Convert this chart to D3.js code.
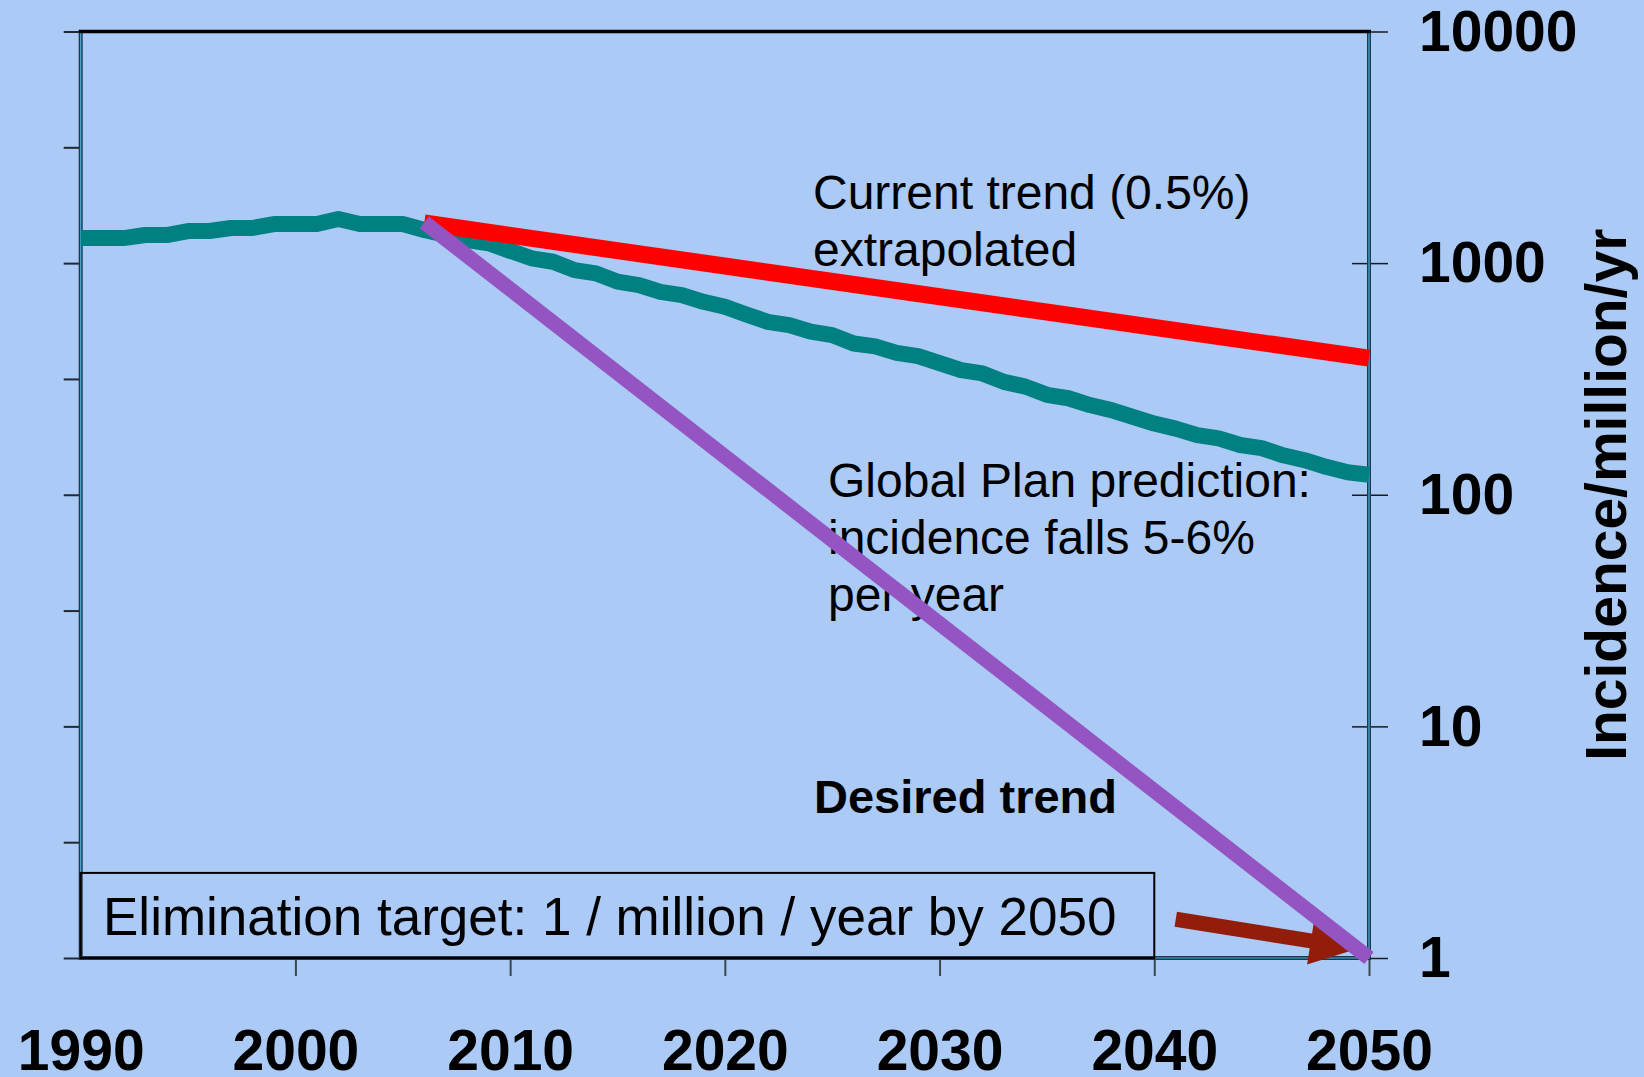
<!DOCTYPE html>
<html>
<head>
<meta charset="utf-8">
<script src="https://d3js.org/d3.v7.min.js"></script>
<style>
  body { margin: 0; background: #abcaf6; }
  svg { display: block; font-family: "Liberation Sans", Arial, sans-serif; }
</style>
</head>
<body>
<div id="chart"></div>
<script>

// ---- data (incidence / million / yr) ----
var years = d3.range(1990, 2051);
var globalPlan = [
  1283, 1283, 1283, 1322, 1322, 1376, 1376, 1418, 1418, 1475,   // 1990-1999
  1475, 1475, 1550, 1475, 1475, 1475, 1390, 1322, 1258, 1218,   // 2000-2009
  1130, 1049, 1014,  933,  903,  832,  804,  752,  728,  681,   // 2010-2019
   648,  600,  558,  540,  506,  489,  450,  437,  410,  397,   // 2020-2029
   370,  345,  334,  307,  293,  270,  261,  244,  232,  217,   // 2030-2039
   203,  193,  181,  175,  164,  159,  148,  141,  132,  125,   // 2040-2049
   122                                                          // 2050
];
var currentTrendYears = [2006, 2050];
var currentTrend = [1490, 389];
var desiredYears = [2006, 2050];
var desiredTrend = [1500, 1];

// elimination target annotation
var targetYears = [1990, 2040];
var targetBoxTop = 2.33;
var arrowYears = [2041, 2049.5];
var arrowValues = [1.47, 1.1];

var xTicks = [1990, 2000, 2010, 2020, 2030, 2040, 2050];
var yTicks = [1, 10, 100, 1000, 10000];
var yHalfTicks = d3.range(0, 4.01, 0.5).map(function(e) { return Math.pow(10, e); });

// ---- layout ----
var width = 1644,
    height = 1077;
var plotLeft = 80.7, plotRight = 1369, plotTop = 31.5, plotBottom = 958;

var svg = d3.select("#chart")
    .append("svg")
    .attr("width", width)
    .attr("height", height);

svg.append("rect")
    .attr("width", width)
    .attr("height", height)
    .attr("fill", "#abcaf6");

var x = d3.scaleLinear().domain([1990, 2050]).range([plotLeft, plotRight]);
var y = d3.scaleLog().domain([1, 10000]).range([plotBottom, plotTop]);

// left axis: half-decade ticks, no labels
var leftAxis = svg.append("g")
    .attr("transform", "translate(" + plotLeft + ",0)")
    .call(d3.axisLeft(y).tickValues(yHalfTicks).tickSize(17).tickFormat(""));
leftAxis.select(".domain").remove();
leftAxis.selectAll("line").attr("stroke", "#1f2833").attr("stroke-width", 2);

// bottom axis
var bottomAxis = svg.append("g")
    .attr("transform", "translate(0," + (plotBottom + 1) + ")")
    .call(d3.axisBottom(x).tickValues(xTicks).tickSize(17).tickPadding(54)
        .tickFormat(d3.format("d")));
bottomAxis.select(".domain").remove();
bottomAxis.selectAll("line")
    .attr("stroke", "#3b4652")
    .attr("stroke-width", 2)
    .attr("display", function(d) { return d === 1990 ? "none" : null; });
bottomAxis.selectAll("text")
    .attr("fill", "#000")
    .style("font-size", "57px")
    .style("font-weight", "bold");

// right axis with labels, ticks crossing the frame
var rightAxis = svg.append("g")
    .attr("transform", "translate(" + plotRight + ",0)")
    .call(d3.axisRight(y).tickValues(yTicks).tickSize(19).tickPadding(31)
        .tickFormat(d3.format("d")));
rightAxis.select(".domain").remove();
rightAxis.selectAll("line").attr("stroke", "#1a1a1a").attr("stroke-width", 1.5);
rightAxis.selectAll(".tick").append("line")
    .attr("x1", -17).attr("x2", 0)
    .attr("stroke", "#1a1a1a").attr("stroke-width", 1.5);
rightAxis.selectAll("text")
    .attr("fill", "#000")
    .attr("dy", "0.33em")
    .style("font-size", "57px")
    .style("font-weight", "bold");

// y axis title
svg.append("text")
    .attr("transform", "translate(1626," + (plotTop + plotBottom) / 2 + ") rotate(-90)")
    .attr("text-anchor", "middle")
    .style("font-size", "57px")
    .style("font-weight", "bold")
    .text("Incidence/million/yr");

// plot frame
var framePath = "M" + plotLeft + "," + plotTop + "V" + plotBottom + "H" + plotRight + "V" + plotTop;
svg.append("path")
    .attr("d", framePath)
    .attr("fill", "none")
    .attr("stroke", "#22384a")
    .attr("stroke-width", 4);
svg.append("path")
    .attr("d", framePath)
    .attr("fill", "none")
    .attr("stroke", "#45b0e0")
    .attr("stroke-width", 1.2);
svg.append("line")
    .attr("x1", plotLeft - 2).attr("x2", plotRight + 2)
    .attr("y1", plotTop).attr("y2", plotTop)
    .attr("stroke", "#000")
    .attr("stroke-width", 3.5);

// elimination target box
svg.append("rect")
    .attr("x", x(targetYears[0]))
    .attr("y", y(targetBoxTop))
    .attr("width", x(targetYears[1]) - x(targetYears[0]))
    .attr("height", y(1) - y(targetBoxTop))
    .attr("fill", "none")
    .attr("stroke", "#000")
    .attr("stroke-width", 2);
svg.append("text")
    .attr("x", 103)
    .attr("y", 935)
    .style("font-size", "53px")
    .text("Elimination target: 1 / million / year by 2050");

// annotations
var notes = svg.append("g").style("font-size", "48px").attr("fill", "#000");
notes.append("text").attr("x", 813).attr("y", 209).text("Current trend (0.5%)");
notes.append("text").attr("x", 813).attr("y", 266).text("extrapolated");
notes.append("text").attr("x", 828).attr("y", 497).text("Global Plan prediction:");
notes.append("text").attr("x", 828).attr("y", 554).text("incidence falls 5-6%");
notes.append("text").attr("x", 828).attr("y", 611).text("per year");
svg.append("text")
    .attr("x", 814).attr("y", 813)
    .style("font-size", "47px")
    .style("font-weight", "bold")
    .text("Desired trend");

// lines
var line = d3.line()
    .x(function(d) { return x(d[0]); })
    .y(function(d) { return y(d[1]); });

svg.append("path")
    .datum(d3.zip(years, globalPlan))
    .attr("d", line)
    .attr("fill", "none")
    .attr("stroke", "#008080")
    .attr("stroke-width", 16)
    .attr("stroke-linejoin", "round");

svg.append("path")
    .datum(d3.zip(currentTrendYears, currentTrend))
    .attr("d", line)
    .attr("fill", "none")
    .attr("stroke", "#ff0000")
    .attr("stroke-width", 17);

// dark red arrow pointing at the target
var p0 = [x(arrowYears[0]), y(arrowValues[0])],
    p1 = [x(arrowYears[1]), y(arrowValues[1])];
var dx = p1[0] - p0[0], dy = p1[1] - p0[1], len = Math.sqrt(dx * dx + dy * dy);
var ux = dx / len, uy = dy / len, nx = -uy, ny = ux;
var shaft = 7.5, headLen = 48, headHalf = 24;
var bx = p1[0] - ux * headLen, by = p1[1] - uy * headLen;
var arrowPts = [
    [p0[0] + nx * shaft, p0[1] + ny * shaft],
    [bx + nx * shaft, by + ny * shaft],
    [bx + nx * headHalf, by + ny * headHalf],
    p1,
    [bx - nx * headHalf, by - ny * headHalf],
    [bx - nx * shaft, by - ny * shaft],
    [p0[0] - nx * shaft, p0[1] - ny * shaft]
];
svg.append("polygon")
    .attr("points", arrowPts.map(function(p) { return p.join(","); }).join(" "))
    .attr("fill", "#931d0b");

svg.append("path")
    .datum(d3.zip(desiredYears, desiredTrend))
    .attr("d", line)
    .attr("fill", "none")
    .attr("stroke", "#9455c2")
    .attr("stroke-width", 15);

</script>
</body>
</html>
